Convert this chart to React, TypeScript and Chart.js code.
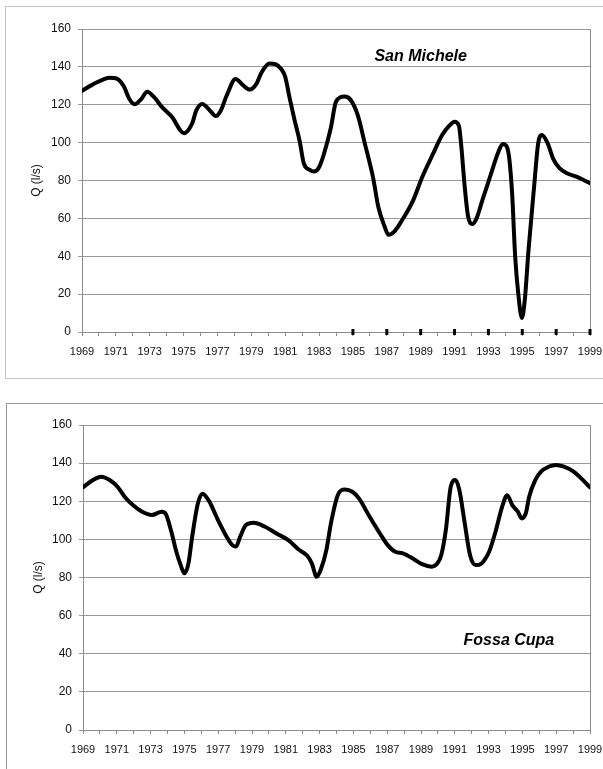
import React, { useEffect, useRef } from 'react';
import { Chart, registerables } from 'chart.js';
Chart.register(...registerables);

// ---- Data ----
const sanMicheleYears = [
  1969, 1969.6, 1970.66, 1971.0, 1971.45, 1971.8, 1972.1, 1972.5, 1972.85, 1973.26, 1973.7, 1974.3,
  1975.03, 1975.5, 1975.75, 1976.1, 1976.55, 1976.9, 1977.2, 1977.55, 1978.07, 1978.5, 1978.9, 1979.3,
  1979.6, 1980.07, 1980.4, 1980.75, 1981.0, 1981.25, 1981.55, 1981.85, 1982.1, 1982.45, 1982.7, 1983.0,
  1983.3, 1983.7, 1984.0, 1984.5, 1984.87, 1985.28, 1985.7, 1986.2, 1986.5, 1986.87, 1987.1, 1987.44,
  1987.9, 1988.57, 1989.1, 1989.7, 1990.27, 1990.68, 1991.0, 1991.26, 1991.4, 1991.6, 1991.8, 1992.05,
  1992.3, 1992.65, 1993.1, 1993.56, 1993.85, 1994.08, 1994.24, 1994.4, 1994.58, 1994.76, 1994.98, 1995.15,
  1995.37, 1995.7, 1995.94, 1996.16, 1996.5, 1996.85, 1997.2, 1997.64, 1998.2, 1999.0,
];
const sanMicheleQ = [
  127.4, 130.5, 134.3, 134.0, 130.0, 123.0, 120.2, 123.0, 126.9, 124.0, 119.0, 113.7,
  105.0, 110.0, 117.0, 120.4, 117.0, 114.0, 117.0, 125.0, 133.6, 130.4, 128.0, 131.0,
  137.0, 141.8, 141.5, 139.0, 134.8, 124.0, 112.0, 101.0, 89.0, 85.6, 84.7, 87.0,
  94.4, 108.0, 121.6, 124.3, 122.5, 114.6, 99.6, 81.0, 66.0, 55.7, 51.3, 53.0,
  59.0, 69.8, 82.0, 93.5, 104.0, 108.8, 111.0, 108.8, 98.0, 76.8, 61.0, 57.0,
  60.0, 69.8, 82.0, 94.4, 99.3, 98.0, 91.0, 73.3, 40.0, 20.6, 7.4, 17.0,
  43.4, 76.8, 99.6, 104.0, 99.6, 91.0, 86.5, 83.8, 82.0, 78.6,
];
const sanMicheleMarkedYears = [1985, 1987, 1989, 1991, 1993, 1995, 1997, 1999];

const fossaCupaYears = [
  1969, 1969.57, 1970.07, 1970.6, 1971.04, 1971.5, 1971.95, 1972.5, 1973.08, 1973.65, 1973.9, 1974.2,
  1974.55, 1974.78, 1975.0, 1975.24, 1975.46, 1975.8, 1976.07, 1976.48, 1976.94, 1977.5, 1977.84, 1978.05,
  1978.3, 1978.64, 1979.1, 1979.77, 1980.45, 1981.13, 1981.8, 1982.27, 1982.54, 1982.83, 1983.06, 1983.4,
  1983.67, 1984.08, 1984.5, 1984.94, 1985.33, 1985.9, 1986.57, 1987.03, 1987.48, 1987.93, 1988.6, 1989.07,
  1989.63, 1989.97, 1990.2, 1990.47, 1990.76, 1991.04, 1991.27, 1991.56, 1991.9, 1992.24, 1992.58, 1993.03,
  1993.38, 1993.83, 1994.1, 1994.4, 1994.73, 1994.96, 1995.2, 1995.4, 1995.76, 1996.1, 1996.55, 1997.0,
  1997.46, 1998.03, 1998.48, 1999.0,
];
const fossaCupaQ = [
  127.3, 131.0, 132.9, 131.0, 127.6, 122.0, 118.0, 114.5, 112.8, 114.5, 113.3, 104.9,
  92.7, 86.5, 82.2, 87.4, 101.4, 118.9, 124.0, 119.8, 111.0, 101.4, 97.0, 96.2,
  101.4, 107.5, 108.7, 106.6, 103.1, 99.7, 94.4, 91.4, 87.4, 80.4, 83.9, 94.4,
  108.4, 123.3, 126.2, 125.0, 121.5, 112.8, 103.1, 97.0, 93.5, 92.7, 89.5, 87.0,
  85.7, 87.4, 91.8, 104.9, 127.6, 131.1, 125.9, 110.1, 91.8, 86.5, 87.4, 93.5,
  103.1, 118.0, 123.2, 118.0, 114.5, 111.0, 113.6, 122.4, 131.1, 135.5, 138.1, 139.0,
  138.1, 135.5, 132.0, 127.3,
];

const FONT = "'Liberation Sans', Arial, Helvetica, sans-serif";

const framePlugin = {
  id: 'frame',
  beforeDatasetsDraw(chart: any) {
    const { ctx, chartArea } = chart;
    ctx.save();
    ctx.strokeStyle = '#8c8c8c';
    ctx.lineWidth = 1;
    const x = Math.round(chartArea.right) + 0.5;
    ctx.beginPath();
    ctx.moveTo(x, chartArea.top);
    ctx.lineTo(x, chartArea.bottom);
    ctx.stroke();
    ctx.restore();
  },
  afterDraw(chart: any, _args: any, opts: any) {
    if (!opts || !opts.text) return;
    const { ctx, scales } = chart;
    ctx.save();
    ctx.font = `italic bold ${opts.size || 16}px ${FONT}`;
    ctx.fillStyle = '#000';
    ctx.textAlign = 'center';
    ctx.textBaseline = 'middle';
    ctx.fillText(opts.text, scales.x.getPixelForValue(opts.x), scales.y.getPixelForValue(opts.y));
    ctx.restore();
  },
};

type PanelProps = {
  years: number[];
  values: number[];
  marked?: number[];
  name: string;
  nameX: number;
  nameY: number;
  top: number;
  height: number;
  padTop: number;
  yWidth: number;
  xHeight: number;
  titlePad: number;
};

function ChartPanel(p: PanelProps) {
  const ref = useRef<HTMLCanvasElement>(null);
  useEffect(() => {
    if (!ref.current) return;
    const datasets: any[] = [
      {
        data: p.years.map((x, i) => ({ x, y: p.values[i] })),
        borderColor: '#000',
        borderWidth: 4,
        pointRadius: 0,
        fill: false,
        cubicInterpolationMode: 'monotone',
        borderCapStyle: 'round',
        borderJoinStyle: 'round',
      },
    ];
    if (p.marked) {
      datasets.push({
        data: p.marked.map((x) => ({ x, y: 0 })),
        showLine: false,
        pointStyle: 'line',
        pointRotation: 90,
        pointRadius: 3,
        pointBorderWidth: 3,
        pointBorderColor: '#000',
        borderColor: '#000',
        clip: false,
      });
    }
    const chart = new Chart(ref.current, {
      type: 'line',
      data: { datasets },
      plugins: [framePlugin as any],
      options: {
        animation: false,
        responsive: false,
        maintainAspectRatio: false,
        layout: { padding: { top: p.padTop, right: 13, left: 0, bottom: 0 } },
        plugins: {
          legend: { display: false },
          tooltip: { enabled: false },
          frame: { text: p.name, x: p.nameX, y: p.nameY, size: 16 },
        } as any,
        scales: {
          x: {
            type: 'linear',
            min: 1969,
            max: 1999,
            afterFit: (s: any) => {
              s.height = p.xHeight;
              s.paddingLeft = 0;
              s.paddingRight = 0;
            },
            ticks: {
              stepSize: 1,
              autoSkip: false,
              maxRotation: 0,
              minRotation: 0,
              padding: 9,
              color: '#111',
              font: { family: FONT, size: 11 },
              callback: (v: any) => ((Number(v) - 1969) % 2 === 0 ? String(v) : ''),
            },
            grid: {
              drawOnChartArea: false,
              drawTicks: true,
              tickLength: 4,
              color: '#8c8c8c',
            },
            border: { display: true, color: '#8c8c8c', width: 1 },
          },
          y: {
            min: 0,
            max: 160,
            afterFit: (s: any) => {
              s.width = p.yWidth;
            },
            ticks: {
              stepSize: 20,
              padding: 7,
              color: '#111',
              font: { family: FONT, size: 12 },
            },
            grid: {
              color: '#9a9a9a',
              drawTicks: true,
              tickLength: 4,
            },
            border: { display: true, color: '#8c8c8c', width: 1 },
            title: {
              display: true,
              text: 'Q (l/s)',
              color: '#111',
              font: { family: FONT, size: 12 },
              padding: { top: p.titlePad, bottom: 0 },
            },
          },
        },
      } as any,
    });
    return () => chart.destroy();
  }, []);
  return (
    <canvas
      ref={ref}
      width={603}
      height={p.height}
      style={{ position: 'absolute', left: 0, top: p.top, width: 603, height: p.height }}
    />
  );
}

export default function App() {
  return (
    <div
      style={{
        position: 'absolute',
        left: 0,
        top: 0,
        width: 603,
        height: 769,
        overflow: 'hidden',
        background: '#fff',
      }}
    >
      <div
        style={{
          position: 'absolute',
          left: 5,
          top: 6,
          width: 640,
          height: 371,
          border: '1px solid #c4c4c4',
        }}
      />
      <div
        style={{
          position: 'absolute',
          left: 6,
          top: 403,
          width: 640,
          height: 400,
          border: '1px solid #9a9a9a',
        }}
      />
      <ChartPanel
        years={sanMicheleYears}
        values={sanMicheleQ}
        marked={sanMicheleMarkedYears}
        name="San Michele"
        nameX={1989.0}
        nameY={145.2}
        top={0}
        height={390}
        padTop={29}
        yWidth={82}
        xHeight={58}
        titlePad={29}
      />
      <ChartPanel
        years={fossaCupaYears}
        values={fossaCupaQ}
        name="Fossa Cupa"
        nameX={1994.2}
        nameY={46.7}
        top={390}
        height={379}
        padTop={35}
        yWidth={83}
        xHeight={39}
        titlePad={31}
      />
    </div>
  );
}
